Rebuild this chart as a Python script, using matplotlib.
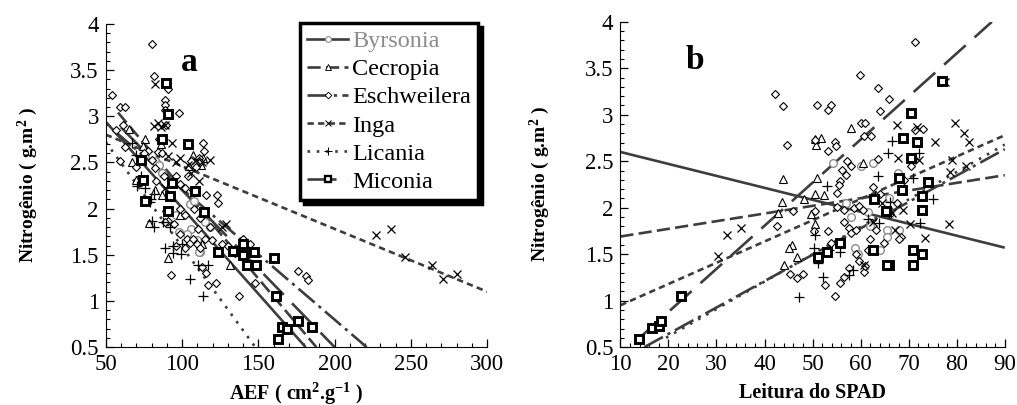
import matplotlib
matplotlib.use("Agg")
import matplotlib.pyplot as plt
from matplotlib.lines import Line2D
from matplotlib.ticker import MultipleLocator

plt.rcParams["font.family"] = "Liberation Serif"
plt.rcParams["mathtext.fontset"] = "custom"
plt.rcParams["mathtext.rm"] = "Liberation Serif"
plt.rcParams["mathtext.it"] = "Liberation Serif:italic"
plt.rcParams["mathtext.bf"] = "Liberation Serif:bold"

# ---------------------------------------------------------------------------
# data
# ---------------------------------------------------------------------------
SPECIES = ["Byrsonia", "Cecropia", "Eschweilera", "Inga", "Licania", "Miconia"]

# panel a: AEF (cm2/g) vs N
byr_a_x = [80, 82, 85, 87, 96, 105, 108, 106, 110, 112, 111, 103, 100, 115, 118, 98]
byr_a_y = [2.58, 2.52, 2.47, 2.38, 1.93, 2.05, 2.08, 1.78, 1.66, 1.53, 1.53, 1.72,
           1.95, 1.85, 1.80, 1.75]
cec_a_x = [65, 75.5, 74.5, 67, 70, 78.5, 91, 98.5, 107, 112.5, 114, 104.5, 87, 82,
           131.5, 140, 113, 86]
cec_a_y = [2.86, 2.75, 2.68, 2.50, 2.31, 1.84, 1.46, 1.93, 2.58, 2.47, 2.55, 2.46,
           2.15, 2.20, 1.39, 1.67, 1.62, 2.70]
esc_a_x = [54.2, 59.2, 62.9, 80.6, 81.5, 90.5, 88.7, 88.7, 97.9, 89, 89.4, 61.4, 59.2,
           62.5, 113.8, 114.5, 106, 109, 111, 112, 82.2, 80, 84, 87, 88, 98.6, 101.8,
           107, 116, 123.2, 123.8, 89.6, 98.6, 101.8, 98.6, 103, 105, 107, 110, 115.2,
           119.5, 126, 90.5, 88.9, 94.7, 101.8, 111.5, 113.2, 115.4, 117.2, 122.2,
           137.5, 147.8, 140, 144.3, 176.2, 181.2, 182.7, 92.6, 110.5, 85, 83, 93, 96,
           104, 108, 112, 118, 130, 135, 96, 78, 75, 70, 57]
esc_a_y = [3.23, 3.10, 3.10, 3.78, 3.44, 3.29, 3.18, 3.12, 3.03, 3.07, 2.91, 2.91, 2.52,
           2.67, 2.71, 2.62, 2.52, 2.45, 2.55, 2.50, 2.44, 2.53, 2.61, 2.60, 2.35, 2.27,
           2.22, 2.20, 2.15, 2.15, 2.06, 1.97, 2.00, 1.93, 1.73, 1.67, 1.63, 1.67, 1.62,
           1.67, 1.66, 1.62, 1.87, 1.85, 1.83, 1.57, 1.57, 1.37, 1.30, 1.17, 1.19, 1.05,
           1.19, 1.67, 1.62, 1.32, 1.27, 1.23, 1.28, 1.78, 2.75, 2.30, 2.15, 2.35, 2.35,
           2.00, 1.90, 1.80, 1.60, 1.52, 1.60, 2.62, 2.60, 2.45, 2.85]
inga_a_x = [82.6, 81.5, 84, 86.5, 89, 93.5, 91, 96, 98.6, 103.6, 109, 113, 118, 105.8,
            111, 129, 126, 89, 227, 237, 246, 264, 271, 280]
inga_a_y = [3.35, 2.89, 2.93, 2.88, 2.91, 2.71, 2.57, 2.50, 2.55, 2.47, 2.53, 2.50, 2.53,
            2.38, 2.30, 1.83, 1.80, 2.22, 1.71, 1.78, 1.48, 1.39, 1.24, 1.29]
lic_a_x = [67.5, 70.1, 70.7, 76, 81.3, 79.5, 78.7, 80, 87.6, 88.7, 94.2, 94.2, 100.2,
           99.6, 105.1, 113.9, 110.7, 117.2, 81.3, 73, 92]
lic_a_y = [2.71, 2.58, 2.24, 2.22, 2.16, 2.10, 2.07, 1.87, 1.86, 1.57, 1.59, 1.52, 1.62,
           1.51, 1.24, 1.05, 1.39, 1.39, 1.80, 2.35, 1.80]
mic_a_x = [89.2, 90.9, 86.9, 103.6, 73, 93.5, 74.5, 108.8, 92, 75.4, 114.5, 90.9, 123.7,
           133.5, 140, 140, 147.3, 142.3, 148.4, 160.2, 161.3, 162.6, 165.3, 169, 175.8,
           185]
mic_a_y = [3.36, 3.02, 2.75, 2.70, 2.53, 2.28, 2.31, 2.19, 2.14, 2.08, 1.96, 1.97, 1.53,
           1.54, 1.62, 1.50, 1.53, 1.39, 1.39, 1.47, 1.05, 0.59, 0.72, 0.70, 0.78, 0.72]

# panel b: SPAD reading vs N
byr_b_x = [54.3, 62.6, 67.8, 58.9, 59.5, 63, 65.4, 65.5, 68, 66, 60, 61.5, 64, 58, 62, 57]
byr_b_y = [2.48, 2.48, 2.37, 1.57, 1.50, 1.55, 1.76, 1.69, 1.76, 2.10, 2.45, 1.95,
           1.55, 1.90, 1.80, 2.05]
cec_b_x = [58, 50.4, 51.8, 50.8, 43.9, 43.7, 42.8, 50.9, 50.4, 49.7, 48.3, 52.3, 50.6,
           45.7, 45, 44, 46.7, 60.5]
cec_b_y = [2.86, 2.74, 2.75, 2.67, 2.31, 2.06, 1.94, 2.32, 2.15, 1.93, 2.09, 2.14, 1.82,
           1.60, 1.57, 1.38, 1.47, 2.48]
esc_b_x = [42.2, 43.8, 44.7, 42.6, 46, 50.9, 53.2, 53.9, 50.6, 54.7, 54.8, 53.2, 59.8,
           63.7, 66, 64, 60, 61, 60.6, 62.2, 57.2, 56.2, 55.8, 55.4, 55.1, 57, 58, 63.7,
           55.1, 56.5, 58.6, 59.7, 60.4, 56.5, 57.5, 57.9, 59, 50.2, 50.6, 53.2, 53.9,
           45.3, 46.7, 48.1, 52.6, 54.7, 55.8, 56.5, 57.5, 59.7, 60.7, 68.5, 70.9, 70.5,
           71.3, 73, 71.3, 62.6, 66.1, 63.3, 64.9, 61.5, 62, 67.5, 69, 64, 59, 61, 68]
esc_b_y = [3.22, 3.09, 2.67, 1.80, 1.96, 3.10, 3.05, 3.10, 2.73, 2.71, 2.66, 2.61, 3.43,
           3.29, 3.17, 3.04, 2.91, 2.91, 2.77, 2.77, 2.50, 2.41, 2.29, 2.24, 2.16, 2.35,
           2.45, 2.52, 2.01, 1.98, 2.00, 2.02, 1.97, 1.85, 1.78, 1.73, 1.76, 1.75, 1.96,
           1.75, 1.62, 1.29, 1.24, 1.29, 1.17, 1.05, 1.19, 1.25, 1.35, 1.43, 1.31, 1.69,
           2.52, 2.45, 2.84, 2.85, 3.78, 2.22, 1.93, 1.76, 1.62, 1.55, 1.66, 2.05, 2.30,
           2.15, 1.50, 1.37, 1.66]
inga_b_x = [32.2, 35.1, 30.3, 67.5, 71.7, 75.5, 77.5, 79.6, 81.6, 82.5, 79.1, 78.7, 81.9,
            67.8, 72.1, 78.3, 73.4, 70.3, 66.5, 68.9, 67.2, 62.5, 64.5, 60.8]
inga_b_y = [1.71, 1.78, 1.48, 2.89, 2.87, 2.71, 3.35, 2.91, 2.80, 2.71, 2.51, 2.38, 2.45,
            2.54, 2.51, 1.83, 1.67, 1.83, 1.94, 1.97, 1.76, 1.85, 2.05, 1.38]
lic_b_x = [47.2, 50.4, 50.2, 51.1, 52.1, 53, 55.8, 57.5, 63.6, 65.6, 66.5, 66.2, 63.9,
           72.1, 71, 75, 72.4, 61.5, 58.5, 63, 53.5]
lic_b_y = [1.04, 1.71, 1.57, 1.40, 1.25, 2.23, 1.52, 1.28, 2.34, 2.59, 2.72, 2.06, 1.84,
           2.59, 2.32, 2.09, 1.84, 1.88, 1.33, 2.13, 1.55]
mic_b_x = [13.8, 16.6, 18.0, 18.5, 22.7, 51.2, 53, 55.7, 62.7, 62.5, 65.3, 65.8, 67.9,
           68.7, 68.9, 70.5, 70.5, 71, 71, 71.7, 72.7, 72.8, 72.8, 74.1, 76.9, 65.5]
mic_b_y = [0.59, 0.71, 0.73, 0.78, 1.05, 1.47, 1.52, 1.62, 2.09, 1.54, 1.96, 1.38, 2.32,
           2.19, 2.75, 3.02, 2.54, 1.54, 1.38, 2.71, 1.97, 2.13, 1.50, 2.28, 3.36, 1.38]

# fitted lines (start / end points), same order as SPECIES
FIT_A_X = [[50, 181], [58, 188], [55, 221], [50, 300], [50, 148], [60, 200]]
FIT_A_Y = [[2.94, 0.5], [3.04, 0.5], [2.85, 0.5], [2.80, 1.10], [2.72, 0.5], [2.88, 0.5]]
FIT_B_X = [[10, 90], [10, 90], [15, 90], [10, 90], [19.5, 90], [14, 87.3]]
FIT_B_Y = [[2.60, 1.57], [1.69, 2.35], [0.5, 2.63], [0.95, 2.78], [0.6, 2.68], [0.6, 4.0]]

PANEL_A = [(byr_a_x, byr_a_y), (cec_a_x, cec_a_y), (esc_a_x, esc_a_y),
           (inga_a_x, inga_a_y), (lic_a_x, lic_a_y), (mic_a_x, mic_a_y)]
PANEL_B = [(byr_b_x, byr_b_y), (cec_b_x, cec_b_y), (esc_b_x, esc_b_y),
           (inga_b_x, inga_b_y), (lic_b_x, lic_b_y), (mic_b_x, mic_b_y)]

# ---------------------------------------------------------------------------
# styles
# ---------------------------------------------------------------------------
LINE_COLOR = "#3d3d3d"
LW = 1.9
STYLE = {
    "Byrsonia":    dict(marker="o", ms=5.5, mec="#8c8c8c", mew=1.0, ls="-"),
    "Cecropia":    dict(marker="^", ms=6.0, mec="black", mew=0.8, ls=(0, (5, 2))),
    "Eschweilera": dict(marker="D", ms=4.5, mec="black", mew=0.8,
                        ls=(0, (8, 2, 1.2, 2))),
    "Inga":        dict(marker="x", ms=6.0, mec="black", mew=0.9, ls=(0, (2.4, 1.6))),
    "Licania":     dict(marker="+", ms=7.5, mec="black", mew=0.9, ls=(0, (1, 2.5))),
    "Miconia":     dict(marker="s", ms=5.8, mec="black", mew=2.1, ls=(0, (11, 4.5))),
}


def style_axes(ax, xlim, xmaj, xmin, ylabelpad):
    ax.set_xlim(*xlim)
    ax.set_ylim(0.5, 4)
    for s in ("top", "right"):
        ax.spines[s].set_visible(False)
    ax.xaxis.set_major_locator(MultipleLocator(xmaj))
    ax.xaxis.set_minor_locator(MultipleLocator(xmin))
    ax.yaxis.set_major_locator(MultipleLocator(0.5))
    ax.yaxis.set_minor_locator(MultipleLocator(0.1))
    ax.tick_params(which="major", direction="in", length=6, width=0.9,
                   labelsize=16.5, pad=5)
    ax.tick_params(which="minor", direction="in", length=3, width=0.8)
    ax.yaxis.set_major_formatter(plt.FuncFormatter(lambda v, p: f"{v:g}"))
    ax.set_ylabel(r"Nitrogênio ( g.m$^{\mathbf{2}}$ )", fontsize=14,
                  fontweight="bold", labelpad=ylabelpad)


def draw_panel(ax, points, fit_x, fit_y):
    for name, (xs, ys), fx, fy in zip(SPECIES, points, fit_x, fit_y):
        st = STYLE[name]
        ax.plot(fx, fy, color=LINE_COLOR, lw=LW, ls=st["ls"], zorder=2,
                solid_capstyle="butt", dash_capstyle="butt")
        face = "none" if st["marker"] in ("x", "+") else "white"
        ax.plot(xs, ys, ls="none", marker=st["marker"], ms=st["ms"],
                mec=st["mec"], mew=st["mew"], mfc=face, zorder=3)


fig = plt.figure(figsize=(10.17, 4.05), dpi=100)
ax_a = fig.add_axes([0.104, 0.143, 0.375, 0.798])
ax_b = fig.add_axes([0.610, 0.143, 0.378, 0.803])

draw_panel(ax_a, PANEL_A, FIT_A_X, FIT_A_Y)
style_axes(ax_a, (50, 300), 50, 10, 22)
ax_a.set_xlabel(r"AEF ( cm$^{\mathbf{2}}$.g$^{\mathbf{-1}}$ )", fontsize=14.5,
                fontweight="bold", labelpad=4)
ax_a.text(105, 3.58, "a", fontsize=24, fontweight="bold", ha="center", va="center")

draw_panel(ax_b, PANEL_B, FIT_B_X, FIT_B_Y)
style_axes(ax_b, (10, 90), 10, 2, 24)
ax_b.set_xlabel("Leitura do SPAD", fontsize=14.5, fontweight="bold", labelpad=6)
ax_b.text(25.6, 3.58, "b", fontsize=24, fontweight="bold", ha="center", va="center")

# legend
handles = []
for name in SPECIES:
    st = STYLE[name]
    face = "none" if st["marker"] in ("x", "+") else "white"
    handles.append(Line2D([0], [0], color=LINE_COLOR, lw=LW, ls=st["ls"],
                          marker=st["marker"], ms=st["ms"] * 0.75, mec=st["mec"],
                          mew=st["mew"] * 0.8, mfc=face))
leg = ax_a.legend(handles, SPECIES, loc="upper left", bbox_to_anchor=(0.509, 1.003),
                  fontsize=17.5, frameon=True, fancybox=False,
                  shadow={"color": "black", "alpha": 1, "ox": 3, "oy": -3},
                  handlelength=1.7, handletextpad=0.15, labelspacing=0.25,
                  borderpad=0.3, borderaxespad=0, framealpha=1)
leg.get_frame().set_edgecolor("black")
leg.get_frame().set_linewidth(2.5)
leg.get_texts()[0].set_color("#8c8c8c")

fig.savefig("out.png", dpi=100)
